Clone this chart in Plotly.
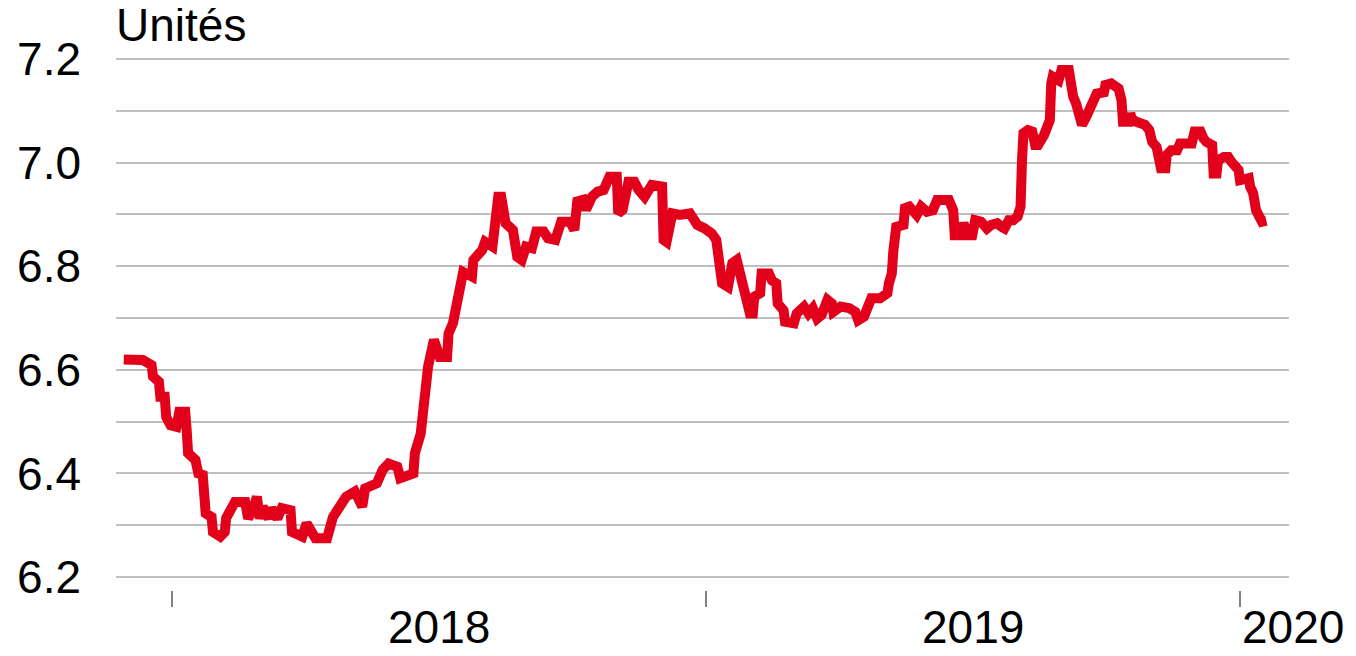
import pandas as pd
import plotly.graph_objects as go

# Days since 2018-01-01 and exchange-rate values (units)
day_offset = [
    -33, -20, -14, -13, -9, -8, -5, -4, -1, 3, 5, 9, 10, 11, 16, 18, 21, 23, 27, 28,
    33, 36, 37, 40, 43, 50, 52, 56, 58, 60, 62, 66, 68, 72, 75, 81, 82, 89, 92, 98,
    106, 110, 113, 119, 125, 130, 132, 140, 144, 148, 154, 156, 165, 166, 170, 173, 175, 179, 183, 188,
    189, 192, 197, 199, 205, 206, 212, 214, 219, 221, 223, 225, 228, 233, 236, 239, 242, 246, 249, 254,
    257, 262, 266, 272, 275, 277, 281, 283, 287, 291, 295, 299, 304, 305, 308, 312, 316, 319, 323, 328,
    335, 336, 338, 342, 347, 354, 359, 364, 369, 372, 375, 376, 380, 383, 386, 388, 391, 393, 395, 397,
    398, 402, 403, 408, 410, 413, 414, 418, 419, 425, 427, 432, 435, 438, 441, 444, 448, 451, 452, 457,
    463, 467, 469, 473, 475, 478, 484, 489, 490, 492, 493, 494, 495, 500, 501, 504, 509, 512, 516, 520,
    523, 531, 534, 535, 539, 541, 544, 547, 549, 553, 557, 560, 564, 567, 569, 572, 575, 578, 580, 581,
    582, 585, 588, 590, 592, 596, 599, 600, 601, 602, 606, 608, 613, 614, 616, 618, 620, 622, 625, 626,
    630, 632, 637, 638, 642, 647, 649, 650, 654, 655, 656, 659, 665, 668, 670, 673, 674, 676, 679, 680,
    683, 687, 689, 694, 697, 699, 703, 705, 707, 711, 712, 714, 715, 719, 722, 724, 727, 729, 730, 733,
    736, 737, 739, 741, 743, 745, 748,
]
rate = [
    6.620, 6.619, 6.609, 6.587, 6.577, 6.548, 6.548, 6.509, 6.493, 6.490, 6.519, 6.519, 6.484, 6.439, 6.426, 6.400, 6.397, 6.323, 6.316, 6.287,
    6.278, 6.287, 6.314, 6.336, 6.345, 6.345, 6.313, 6.336, 6.355, 6.313, 6.336, 6.313, 6.333, 6.313, 6.333, 6.329, 6.287, 6.278, 6.304, 6.275,
    6.275, 6.316, 6.329, 6.355, 6.365, 6.336, 6.371, 6.381, 6.407, 6.419, 6.413, 6.391, 6.400, 6.439, 6.477, 6.548, 6.606, 6.658, 6.625, 6.625,
    6.670, 6.690, 6.754, 6.789, 6.780, 6.812, 6.831, 6.847, 6.838, 6.889, 6.934, 6.934, 6.883, 6.870, 6.818, 6.812, 6.838, 6.835, 6.867, 6.867,
    6.854, 6.851, 6.886, 6.886, 6.870, 6.925, 6.928, 6.909, 6.934, 6.944, 6.947, 6.973, 6.973, 6.902, 6.909, 6.963, 6.963, 6.947, 6.934, 6.957,
    6.954, 6.851, 6.847, 6.902, 6.899, 6.902, 6.880, 6.873, 6.863, 6.851, 6.793, 6.767, 6.760, 6.806, 6.812, 6.786, 6.741, 6.722, 6.709, 6.709,
    6.741, 6.748, 6.786, 6.786, 6.773, 6.767, 6.728, 6.715, 6.693, 6.690, 6.709, 6.722, 6.709, 6.719, 6.699, 6.706, 6.735, 6.728, 6.712, 6.722,
    6.719, 6.712, 6.696, 6.703, 6.722, 6.738, 6.738, 6.748, 6.767, 6.786, 6.828, 6.863, 6.876, 6.880, 6.912, 6.915, 6.899, 6.915, 6.905, 6.908,
    6.928, 6.928, 6.908, 6.860, 6.860, 6.883, 6.860, 6.860, 6.889, 6.886, 6.873, 6.880, 6.883, 6.876, 6.873, 6.889, 6.889, 6.896, 6.915, 7.005,
    7.057, 7.063, 7.060, 7.034, 7.034, 7.053, 7.069, 7.082, 7.153, 7.166, 7.159, 7.179, 7.179, 7.147, 7.127, 7.114, 7.082, 7.073, 7.089, 7.095,
    7.114, 7.133, 7.136, 7.150, 7.153, 7.143, 7.121, 7.079, 7.079, 7.095, 7.085, 7.079, 7.073, 7.063, 7.040, 7.030, 7.011, 6.989, 6.989, 7.015,
    7.024, 7.024, 7.037, 7.040, 7.037, 7.060, 7.060, 7.047, 7.040, 7.034, 6.979, 6.979, 7.005, 7.011, 7.011, 7.002, 6.992, 6.986, 6.966, 6.966,
    6.970, 6.953, 6.941, 6.908, 6.889, 6.886, 6.888,
]
year_ticks = ["2018-01-01", "2019-01-01", "2020-01-01"]
year_labels = ["2018", "2019", "2020"]
y_title = "Unités"

base = pd.Timestamp("2018-01-01")
dates = [base + pd.Timedelta(days=d) for d in day_offset]

FONT = "Liberation Sans, Arial, sans-serif"
RED = "#E3001B"
GRID = "#BFBFBF"

fig = go.Figure()
fig.add_trace(go.Scatter(
    x=dates, y=rate, mode="lines",
    line=dict(color=RED, width=10, shape="linear"),
    hoverinfo="skip", showlegend=False,
))

x0 = base + pd.Timedelta(days=-38.3)
x1 = base + pd.Timedelta(days=763.5)

fig.update_layout(
    width=1356, height=656,
    margin=dict(l=108, r=75, t=50, b=74, autoexpand=False),
    paper_bgcolor="white", plot_bgcolor="white",
    font=dict(family=FONT, size=46, color="black"),
    xaxis=dict(
        type="date", range=[x0, x1], automargin=False,
        tickmode="array", tickvals=year_ticks,
        ticks="outside", ticklen=16, tickwidth=2, tickcolor="#808080",
        showticklabels=False, showgrid=False, showline=False, zeroline=False,
    ),
    yaxis=dict(
        range=[6.175, 7.202], automargin=False,
        tickmode="linear", tick0=6.2, dtick=0.2, tickformat=".1f",
        showgrid=True, gridcolor=GRID, gridwidth=2,
        minor=dict(tickmode="linear", tick0=6.2, dtick=0.1, showgrid=True, gridcolor=GRID, gridwidth=2),
        ticks="", ticklabelstandoff=34,
        showline=False, zeroline=False,
        tickfont=dict(family=FONT, size=46, color="black"),
    ),
)

# Year labels: centred within each year, last one starts at its tick
for i, lab in enumerate(year_labels):
    start = pd.Timestamp(year_ticks[i])
    if i + 1 < len(year_ticks):
        end = pd.Timestamp(year_ticks[i + 1])
        xpos = start + (end - start) / 2
        anchor = "center"
    else:
        xpos = start
        anchor = "left"
    fig.add_annotation(
        x=xpos, xref="x", y=0, yref="paper",
        text=lab, showarrow=False, xanchor=anchor, yanchor="top", yshift=-9,
        font=dict(family=FONT, size=46, color="black"),
    )

fig.add_annotation(
    x=0, xref="paper", y=1, yref="paper", text=y_title, showarrow=False,
    xanchor="left", yanchor="bottom", yshift=5, xshift=-2,
    font=dict(family=FONT, size=46, color="black"),
)

fig.write_html("out.html")
